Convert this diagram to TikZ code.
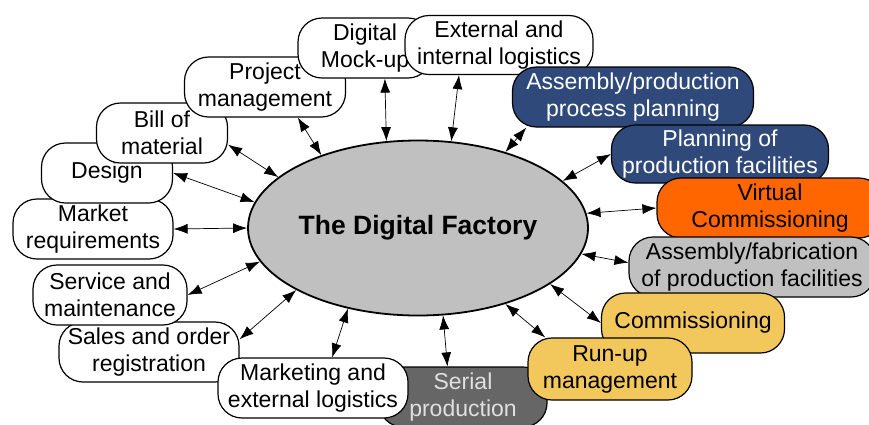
\documentclass[tikz,border=0pt]{standalone}
\usepackage{fontspec}
\setmainfont{Liberation Sans}
\usetikzlibrary{shapes.geometric,arrows.meta}
\definecolor{planblue}{HTML}{2F4A7A}
\definecolor{vcorange}{HTML}{FF6600}
\definecolor{runyellow}{HTML}{F2C75C}
\definecolor{fabgray}{HTML}{C0C0C0}
\definecolor{serialgray}{HTML}{666666}

\tikzset{
  phase/.style={draw, line width=1.2pt, rounded corners=24pt, fill=white,
    align=center, inner sep=0pt, minimum height=60pt,
    font=\fontsize{23}{27}\selectfont},
  link/.style={{Latex[length=14pt,width=10pt]}-{Latex[length=14pt,width=10pt]},
    line width=0.7pt},
}

\begin{document}
\begin{tikzpicture}[x=1pt,y=-1pt]
    \useasboundingbox (0,0) rectangle (869,424);
    % centre
    \node [ellipse, draw, line width=1.8pt, fill=fabgray, inner sep=0pt,
      minimum width=340pt, minimum height=175pt,
      font=\fontsize{26.5}{30}\selectfont\bfseries] (factory) at (418,228) {The Digital Factory};
    % phases, back to front
    \node [phase, fill=serialgray, text=white!88!black, minimum width=168pt] (serial) at (463,397) {Serial\\production};
    \node [phase, minimum width=180pt] (sales) at (149,352) {Sales and order\\registration};
    \node [phase, minimum width=190pt] (marketing) at (313,388) {Marketing and\\external logistics};
    \node [phase, minimum width=154pt] (service) at (110,295) {Service and\\maintenance};
    \node [phase, minimum width=160pt] (market) at (93,229) {Market\\requirements};
    \node [phase, minimum width=131pt] (design) at (107,173) {Design};
    \node [phase, minimum width=131pt] (bill) at (162,133) {Bill of\\material};
    \node [phase, minimum width=161pt] (project) at (265,87) {Project\\management};
    \node [phase, minimum width=134pt] (mockup) at (365,48) {Digital\\Mock-up};
    \node [phase, minimum width=188pt, minimum height=59pt] (logistics) at (499,45) {External and\\internal logistics};
    \node [phase, fill=planblue, text=white, minimum width=241pt] (assyproc) at (633,97) {Assembly/production\\process planning};
    \node [phase, fill=planblue, text=white, minimum width=217pt, minimum height=58pt] (planning) at (720,154) {Planning of\\production facilities};
    \node [phase, fill=vcorange, minimum width=226pt] (virtual) at (770,208) {Virtual\\Commissioning};
    \node [phase, fill=fabgray, minimum width=246pt] (assyfab) at (752,267) {Assembly/fabrication\\of production facilities};
    \node [phase, fill=runyellow, minimum width=183pt] (commiss) at (693,323) {Commissioning};
    \node [phase, fill=runyellow, minimum width=164pt, minimum height=62pt] (runup) at (610,369) {Run-up\\management};
    % links
    \draw [link] (mockup.-57) -- (factory.110);
    \draw [link] (logistics.217) -- (factory.69);
    \draw [link] (project.-43) -- (factory.143);
    \draw [link] (bill.-10) -- (factory.160);
    \draw [link] (design.east) -- (factory.171);
    \draw [link] (market.east) -- (factory.180);
    \draw [link] (service.east) -- (factory.192);
    \draw [link] (sales.8) -- (factory.207);
    \draw [link] (marketing.58) -- (factory.229);
    \draw [link] (serial.117) -- (factory.286);
    \draw [link] (runup.154) -- (factory.319);
    \draw [link] (commiss.west) -- (factory.337);
    \draw [link] (assyfab.178) -- (factory.351);
    \draw [link] (virtual.west) -- (factory.5);
    \draw [link] (planning.west) -- (factory.18);
    \draw [link] (assyproc.196) -- (factory.41);
  \end{tikzpicture}
\end{document}
